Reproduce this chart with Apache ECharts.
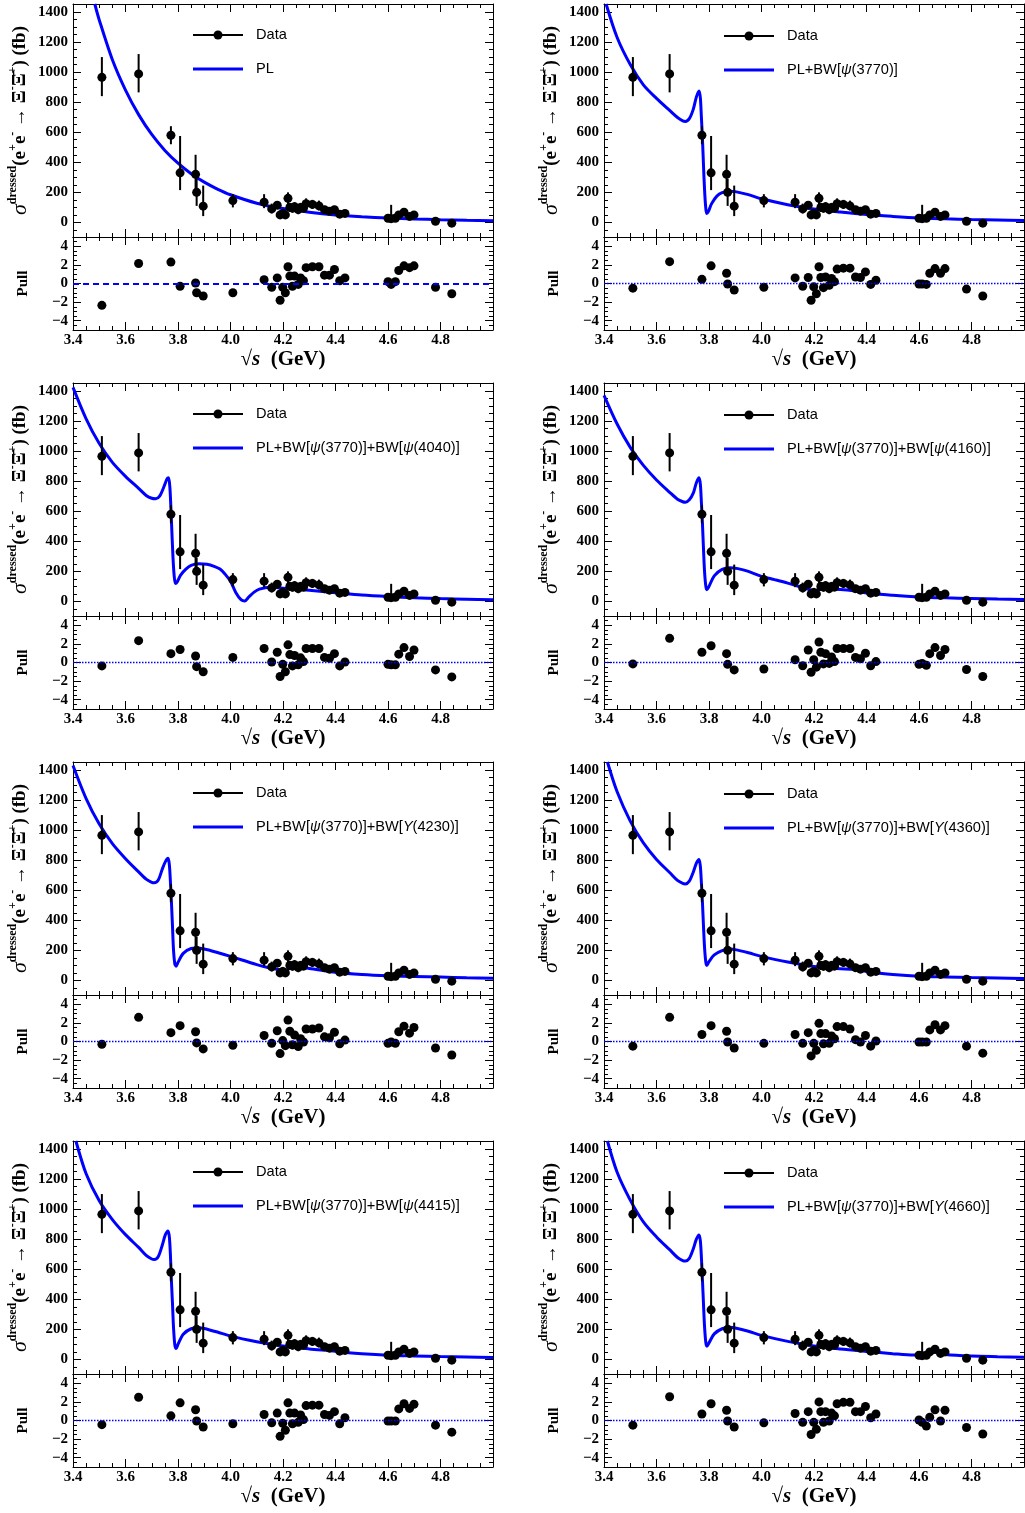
<!DOCTYPE html>
<html><head><meta charset="utf-8">
<script src="https://cdn.jsdelivr.net/npm/echarts@6/dist/echarts.min.js"></script>
<style>html,body{margin:0;padding:0;background:#fff}#c{width:1025px;height:1513px}</style>
</head><body><div id="c"></div>
<script>
// ---------------- DATA ----------------
const energies = [3.510,3.650,3.773,3.808,3.867,3.871,3.896,4.009,
  4.128,4.157,4.178,4.189,4.199,4.209,4.219,4.226,4.236,4.244,4.258,4.267,4.278,4.288,4.312,4.337,4.358,4.377,4.396,4.416,4.436,
  4.600,4.612,4.628,4.641,4.661,4.682,4.699,4.781,4.843];
const xsec = [965,988,580,330,320,200,108,145,
  135,90,115,50,60,50,160,100,95,105,85,100,95,125,120,110,85,75,85,55,60,
  28,25,28,50,68,40,50,8,-5];
const errUp = [135,132,60,245,130,90,137,43,
  53,35,25,25,30,30,40,30,30,30,30,30,30,35,30,35,25,25,25,20,20,
  17,92,17,20,27,15,20,10,10];
const errDn = [125,123,60,115,110,90,66,45,
  40,30,25,15,25,20,40,30,30,30,30,30,25,30,30,30,25,20,25,15,15,
  13,15,13,15,23,15,15,8,10];

const pullPL = [-2.35,2.15,2.3,-0.3,0.05,-1.0,-1.35,-1.0,
  0.4,-0.4,0.6,-1.8,-0.4,-1.0,1.8,0.8,-0.3,0.8,-0.1,0.6,0.3,1.7,1.8,1.8,0.9,0.9,1.5,0.3,0.6,
  0.2,-0.1,0.2,1.4,1.9,1.7,1.9,-0.4,-1.1];
const pull3770 = [-0.5,2.35,0.45,1.9,1.1,-0.05,-0.7,-0.4,
  0.6,-0.3,0.65,-1.8,-0.35,-1.1,1.8,0.65,-0.45,0.7,-0.2,0.55,0.2,1.55,1.65,1.65,0.7,0.65,1.25,-0.1,0.35,
  -0.05,-0.05,-0.1,1.1,1.6,1.1,1.6,-0.6,-1.35];
const pull4040 = [-0.37,2.35,0.95,1.4,0.7,-0.45,-1.0,0.55,
  1.5,0.05,1.1,-1.5,-0.2,-1.0,1.9,0.85,-0.37,0.75,-0.25,0.5,0.1,1.5,1.5,1.5,0.55,0.45,0.95,-0.37,0.05,
  -0.2,-0.25,-0.25,0.9,1.6,0.65,1.35,-0.8,-1.55];
const pull4160 = [-0.15,2.6,1.1,1.8,0.95,-0.2,-0.8,-0.7,
  0.3,-0.35,1.35,-1.05,0.3,-0.5,2.2,1.1,-0.15,0.95,-0.1,0.6,0.1,1.5,1.5,1.5,0.55,0.4,1.0,-0.35,0.1,
  -0.2,-0.1,-0.3,0.95,1.6,0.75,1.4,-0.75,-1.5];
const pull4230 = [-0.3,2.6,0.95,1.7,1.05,-0.15,-0.8,-0.4,
  0.65,-0.2,1.15,-1.3,0.1,-0.45,2.3,1.1,-0.35,0.7,-0.55,0.3,-0.05,1.35,1.35,1.45,0.5,0.4,1.0,-0.25,0.15,
  -0.2,-0.05,-0.2,1.05,1.65,0.9,1.5,-0.7,-1.45];
const pull4360 = [-0.5,2.6,0.75,1.7,1.1,-0.05,-0.7,-0.2,
  0.75,-0.2,0.95,-1.55,-0.2,-0.95,1.95,0.85,-0.25,0.85,-0.2,0.6,0.3,1.6,1.6,1.35,0.2,-0.05,0.65,-0.5,0.05,
  -0.05,-0.05,-0.05,1.25,1.8,1.25,1.7,-0.5,-1.25];
const pull4415 = [-0.45,2.5,0.5,1.9,1.15,-0.05,-0.7,-0.35,
  0.65,-0.25,0.8,-1.7,-0.3,-1.05,1.9,0.8,-0.35,0.8,-0.2,0.6,0.1,1.6,1.65,1.65,0.65,0.55,0.95,-0.35,0.3,
  -0.05,-0.05,-0.05,1.25,1.8,1.3,1.75,-0.5,-1.25];
const pull4660 = [-0.5,2.55,0.7,1.8,1.1,-0.05,-0.7,-0.25,
  0.75,-0.2,0.95,-1.5,-0.2,-0.95,2.0,0.95,-0.2,0.95,-0.05,0.8,0.5,1.8,1.95,1.95,0.95,0.95,1.5,0.3,0.7,
  0.05,-0.2,-0.6,0.35,1.15,-0.05,1.1,-0.75,-1.45];

const curvePL = [[3.483,1453],[3.5,1347],[3.55,1082],[3.6,880],[3.65,717],[3.7,585],[3.75,479],[3.8,394],[3.85,324],[3.9,268],[3.95,222],[4.0,184],[4.1,128],[4.2,92],[4.3,68],[4.4,50],[4.5,38],[4.6,29],[4.7,23],[4.8,18],[4.9,14],[5.0,11]];
const curve3770 = [[3.408,1453],[3.45,1230],[3.5,1050],[3.55,915],[3.6,825],[3.65,745],[3.68,698],[3.7,676],[3.71,672],[3.725,690],[3.74,752],[3.752,835],[3.762,875],[3.767,830],[3.771,700],[3.775,560],[3.779,380],[3.783,220],[3.787,110],[3.791,60],[3.797,70],[3.81,125],[3.83,175],[3.85,198],[3.88,208],[3.9,205],[3.95,185],[4.0,157],[4.1,118],[4.2,89],[4.3,69],[4.4,52],[4.5,40],[4.6,30],[4.7,24],[4.8,19],[4.9,16],[5.0,13]];
const curve4040 = [[3.4,1424],[3.45,1215],[3.5,1050],[3.55,925],[3.6,832],[3.65,752],[3.68,703],[3.7,686],[3.715,683],[3.73,700],[3.748,770],[3.758,815],[3.764,822],[3.769,760],[3.773,620],[3.777,450],[3.781,290],[3.785,180],[3.79,120],[3.797,130],[3.81,175],[3.83,215],[3.85,240],[3.88,250],[3.91,247],[3.94,232],[3.96,216],[3.98,180],[4.0,134],[4.02,60],[4.04,12],[4.054,3],[4.07,30],[4.09,62],[4.11,82],[4.15,95],[4.2,88],[4.3,74],[4.4,58],[4.5,42],[4.6,32],[4.7,25],[4.8,19],[4.9,15],[5.0,11]];
const curve4160 = [[3.4,1371],[3.45,1180],[3.5,1025],[3.55,905],[3.6,808],[3.65,726],[3.68,680],[3.7,663],[3.71,660],[3.725,676],[3.74,720],[3.752,790],[3.762,822],[3.767,780],[3.771,660],[3.775,520],[3.779,350],[3.783,200],[3.788,100],[3.792,78],[3.8,100],[3.82,170],[3.85,213],[3.88,224],[3.91,218],[3.95,200],[4.0,167],[4.05,145],[4.1,122],[4.15,96],[4.2,73],[4.22,80],[4.25,84],[4.3,80],[4.35,71],[4.4,56],[4.5,41],[4.6,30],[4.7,24],[4.8,20],[4.9,16],[5.0,13]];
const curve4230 = [[3.4,1430],[3.45,1210],[3.5,1040],[3.55,910],[3.6,810],[3.65,722],[3.68,672],[3.7,653],[3.71,650],[3.725,668],[3.74,740],[3.752,790],[3.762,812],[3.767,770],[3.771,660],[3.775,520],[3.779,360],[3.783,200],[3.788,110],[3.793,95],[3.8,120],[3.82,180],[3.85,212],[3.87,215],[3.9,209],[3.95,186],[4.0,160],[4.1,105],[4.15,82],[4.2,68],[4.213,63],[4.22,75],[4.24,87],[4.26,88],[4.3,80],[4.4,55],[4.5,40],[4.6,31],[4.7,26],[4.8,22],[4.9,18],[5.0,15]];
const curve4360 = [[3.413,1453],[3.45,1255],[3.5,1060],[3.55,915],[3.6,805],[3.65,718],[3.68,665],[3.7,645],[3.71,642],[3.725,660],[3.74,720],[3.752,780],[3.762,805],[3.767,760],[3.771,650],[3.775,520],[3.779,360],[3.783,220],[3.788,120],[3.792,100],[3.8,125],[3.82,170],[3.85,198],[3.88,209],[3.9,205],[3.95,184],[4.0,160],[4.1,122],[4.2,93],[4.25,84],[4.3,78],[4.35,74],[4.4,60],[4.45,48],[4.5,39],[4.6,28],[4.7,23],[4.8,19],[4.9,16],[5.0,13]];
const curve4415 = [[3.411,1453],[3.45,1235],[3.5,1055],[3.55,930],[3.6,830],[3.65,745],[3.68,690],[3.7,668],[3.71,665],[3.725,685],[3.74,760],[3.752,830],[3.762,855],[3.767,815],[3.771,700],[3.775,520],[3.779,370],[3.783,210],[3.788,95],[3.793,72],[3.8,100],[3.82,168],[3.85,204],[3.88,211],[3.9,206],[3.95,182],[4.0,155],[4.1,118],[4.2,89],[4.3,70],[4.4,55],[4.45,44],[4.5,37],[4.6,28],[4.7,23],[4.8,19],[4.9,16],[5.0,13]];
const curve4660 = [[3.413,1453],[3.45,1245],[3.5,1060],[3.55,915],[3.6,815],[3.65,730],[3.68,678],[3.7,658],[3.71,655],[3.725,672],[3.74,735],[3.752,800],[3.762,828],[3.767,790],[3.771,680],[3.775,530],[3.779,370],[3.783,220],[3.788,110],[3.792,88],[3.8,110],[3.82,170],[3.85,204],[3.88,214],[3.9,209],[3.95,187],[4.0,160],[4.1,120],[4.2,89],[4.3,69],[4.4,53],[4.5,38],[4.58,29],[4.62,31],[4.645,44],[4.66,48],[4.675,42],[4.7,32],[4.8,22],[4.9,18],[5.0,15]];

const modelNames = ['PL','PL+BW[{i|ψ}(3770)]','PL+BW[{i|ψ}(3770)]+BW[{i|ψ}(4040)]','PL+BW[{i|ψ}(3770)]+BW[{i|ψ}(4160)]',
  'PL+BW[{i|ψ}(3770)]+BW[{i|Y}(4230)]','PL+BW[{i|ψ}(3770)]+BW[{i|Y}(4360)]','PL+BW[{i|ψ}(3770)]+BW[{i|ψ}(4415)]','PL+BW[{i|ψ}(3770)]+BW[{i|Y}(4660)]'];
const curves = [curvePL,curve3770,curve4040,curve4160,curve4230,curve4360,curve4415,curve4660];
const pulls = [pullPL,pull3770,pull4040,pull4160,pull4230,pull4360,pull4415,pull4660];

const xTickLabels = [3.4,3.6,3.8,4.0,4.2,4.4,4.6,4.8];
const yTickLabels = [0,200,400,600,800,1000,1200,1400];
const pullTickLabels = [-4,-2,0,2,4];

// ---------------- LAYOUT ----------------
const colLeft = [73, 604], plotW = 420, rowStep = 379;
const mainTop = 4, mainH = 233, pullTop = 237, pullH = 93;
const X_MIN = 3.4, X_MAX = 5.0, Y_MIN = -97, Y_MAX = 1453, P_MIN = -5, P_MAX = 5;

const xMajor = xTickLabels.concat([5.0]);
const xMinor = []; for (let i = 68; i <= 100; i++) { if (i % 4) xMinor.push(i / 20); }
const yMajor = yTickLabels;
const yMinor = []; for (let v = -50; v <= 1450; v += 50) { if (v % 200) yMinor.push(v); }
const pMajor = pullTickLabels;
const pMinor = []; for (let v = -4.5; v <= 4.5; v += 0.5) { if (Math.abs(v % 2) > 1e-6) pMinor.push(v); }

const serifBold = {fontFamily: 'Liberation Serif', fontWeight: 'bold', color: '#000'};
const grids = [], xAxes = [], yAxes = [], series = [], graphics = [];

function addAxes(dim, gi, min, max, major, minor, labels, fmt, extra) {
  const list = dim === 'x' ? xAxes : yAxes;
  const sides = dim === 'x' ? ['bottom', 'top'] : ['left', 'right'];
  const first = list.length;
  sides.forEach((side, k) => {
    const ax = {
      type: 'value', gridIndex: gi, position: side, min: min, max: max,
      axisLine: {show: true, onZero: false, lineStyle: {color: '#000', width: 1}},
      axisTick: {show: true, inside: true, length: 8, customValues: major, lineStyle: {color: '#000', width: 1}},
      axisLabel: Object.assign({show: k === 0 && !!labels, customValues: labels || major, formatter: fmt,
        fontSize: 15, margin: dim === 'x' ? 3 : 5}, serifBold),
      splitLine: {show: false}
    };
    if (k === 0 && extra) Object.assign(ax, extra);
    list.push(ax);
    list.push({
      type: 'value', gridIndex: gi, position: side, min: min, max: max,
      axisLine: {show: false, onZero: false},
      axisTick: {show: true, inside: true, length: 4, customValues: minor, lineStyle: {color: '#000', width: 1}},
      axisLabel: {show: false}, splitLine: {show: false}
    });
  });
  return first;
}

const yTitle = {
  name: '{i|σ}{s|dressed}{n|(e}{s|+}{n|e}{s|-}{n| → Ξ}{s|-}{n|Ξ̄}{s|+}{n|) (fb)}',
  nameLocation: 'middle', nameGap: 40, nameRotate: 90,
  nameTextStyle: {rich: {
    n: {fontFamily: 'Liberation Serif', fontWeight: 'bold', fontSize: 19, color: '#000', lineHeight: 26},
    i: {fontFamily: 'Liberation Serif', fontStyle: 'italic', fontSize: 22, color: '#000', lineHeight: 26},
    s: {fontFamily: 'Liberation Serif', fontWeight: 'bold', fontSize: 12, color: '#000', lineHeight: 12, verticalAlign: 'top'}
  }}
};
const pullTitle = {name: 'Pull', nameLocation: 'middle', nameGap: 42, nameRotate: 90,
  nameTextStyle: Object.assign({fontSize: 15}, serifBold)};
const xTitle = {name: '{n|√}{i|s}{n|  (GeV)}', nameLocation: 'middle', nameGap: 14,
  nameTextStyle: {rich: {
    n: {fontFamily: 'Liberation Serif', fontWeight: 'bold', fontSize: 21, color: '#000'},
    i: {fontFamily: 'Liberation Serif', fontWeight: 'bold', fontStyle: 'italic', fontSize: 21, color: '#000'}
  }}};

const fmtX = v => Number(v).toFixed(1);
const fmtY = v => String(Math.round(v));
const fmtP = v => (v < 0 ? '\u2212' + Math.abs(v) : String(v));
const LEG_FS = 14.6;

for (let p = 0; p < 8; p++) {
  const c = p % 2, r = Math.floor(p / 2);
  const left = colLeft[c], off = r * rowStep;
  const gMain = grids.length;
  grids.push({left: left, top: off + mainTop, width: plotW, height: mainH});
  const gPull = grids.length;
  grids.push({left: left, top: off + pullTop, width: plotW, height: pullH});

  const xm = addAxes('x', gMain, X_MIN, X_MAX, xMajor, xMinor, null, fmtX);
  const ym = addAxes('y', gMain, Y_MIN, Y_MAX, yMajor, yMinor, yTickLabels, fmtY, yTitle);
  const xp = addAxes('x', gPull, X_MIN, X_MAX, xMajor, xMinor, xTickLabels, fmtX, xTitle);
  const yp = addAxes('y', gPull, P_MIN, P_MAX, pMajor, pMinor, pullTickLabels, fmtP, pullTitle);

  series.push({type: 'line', xAxisIndex: xm, yAxisIndex: ym, data: curves[p], showSymbol: false, symbol: 'none',
    smooth: 0.3, clip: true, lineStyle: {color: '#0000ff', width: 3}, z: 2, silent: true});
  series.push({type: 'custom', xAxisIndex: xm, yAxisIndex: ym, clip: true, z: 3, silent: true,
    data: energies.map((e, i) => [e, xsec[i] - errDn[i], xsec[i] + errUp[i]]),
    encode: {x: 0, y: [1, 2]},
    renderItem: (params, api) => {
      const a = api.coord([api.value(0), api.value(1)]);
      const b = api.coord([api.value(0), api.value(2)]);
      return {type: 'line', shape: {x1: a[0], y1: a[1], x2: b[0], y2: b[1]}, style: {stroke: '#000', lineWidth: 2}};
    }});
  series.push({type: 'scatter', xAxisIndex: xm, yAxisIndex: ym, symbol: 'circle', symbolSize: 9, z: 4, silent: true,
    itemStyle: {color: '#000', opacity: 1}, data: energies.map((e, i) => [e, xsec[i]])});
  const dashed = p === 0;
  series.push({type: 'scatter', xAxisIndex: xp, yAxisIndex: yp, symbol: 'circle', symbolSize: 9, z: 4, silent: true,
    itemStyle: {color: '#000', opacity: 1}, data: energies.map((e, i) => [e, pulls[p][i]]),
    markLine: {silent: true, symbol: 'none', label: {show: false}, animation: false,
      lineStyle: {color: '#0000ff', width: dashed ? 2 : 1.3, type: dashed ? [6, 4] : [1.5, 1.5], opacity: 1},
      data: [{yAxis: 0}]}});

  // legend
  const lx = c === 0 ? 193 : 724;
  const y1 = off + (c === 0 ? 35 : 36), y2 = y1 + 34;
  graphics.push({type: 'line', shape: {x1: lx, y1: y1, x2: lx + 50, y2: y1}, style: {stroke: '#000', lineWidth: 2}});
  graphics.push({type: 'circle', shape: {cx: lx + 25, cy: y1, r: 4.5}, style: {fill: '#000'}});
  graphics.push({type: 'text', x: lx + 63, y: y1, style: {text: 'Data', fontFamily: 'Liberation Sans', fontSize: LEG_FS,
    fill: '#000', verticalAlign: 'middle'}});
  graphics.push({type: 'line', shape: {x1: lx, y1: y2, x2: lx + 50, y2: y2}, style: {stroke: '#0000ff', lineWidth: 3}});
  graphics.push({type: 'text', x: lx + 63, y: y2, style: {text: modelNames[p], fontFamily: 'Liberation Sans', fontSize: LEG_FS,
    fill: '#000', verticalAlign: 'middle', rich: {i: {fontFamily: 'Liberation Sans', fontStyle: 'italic', fontSize: LEG_FS, fill: '#000'}}}});
}

const chart = echarts.init(document.getElementById('c'), null, {renderer: 'canvas', width: 1025, height: 1513});
chart.setOption({
  animation: false,
  backgroundColor: '#fff',
  grid: grids, xAxis: xAxes, yAxis: yAxes, series: series,
  graphic: {elements: graphics}
});
</script>
</body></html>
